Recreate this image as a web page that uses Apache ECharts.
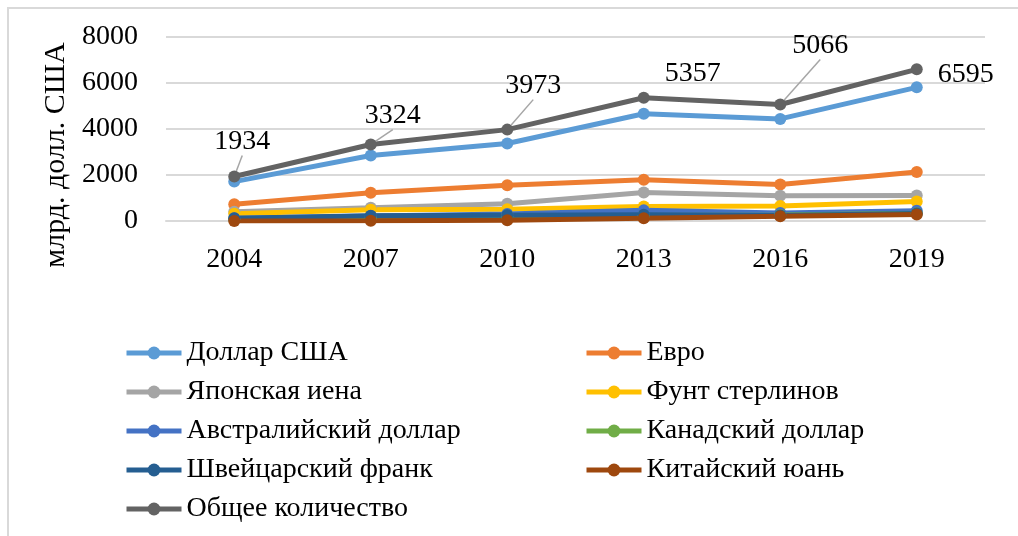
<!DOCTYPE html>
<html>
<head>
<meta charset="utf-8">
<script src="https://cdn.jsdelivr.net/npm/echarts@6/dist/echarts.min.js"></script>
<style>
  html, body { margin: 0; padding: 0; background: #fff; }
  #wrap { position: relative; width: 1018px; height: 536px; overflow: hidden; }
  #chart { position: absolute; left: 0; top: 0; width: 1018px; height: 536px; }
  #frame { position: absolute; left: 7px; top: 7px; width: 1100px; height: 600px;
           border-left: 2px solid #d9d9d9; border-top: 2px solid #d9d9d9; pointer-events: none; }
</style>
</head>
<body>
<div id="wrap"><div id="chart"></div><div id="frame"></div></div>
<script>
const years = ['2004', '2007', '2010', '2013', '2016', '2019'];
const usd   = [1713, 2845, 3371, 4662, 4438, 5811];
const eur   = [724, 1231, 1551, 1790, 1591, 2129];
const jpy   = [399, 573, 754, 1235, 1096, 1108];
const gbp   = [317, 494, 512, 633, 649, 844];
const aud   = [116, 220, 301, 462, 348, 447];
const cad   = [81, 143, 210, 244, 260, 332];
const chf   = [117, 227, 250, 276, 243, 327];
const cny   = [2, 15, 34, 120, 202, 285];
const total = [1934, 3324, 3973, 5357, 5066, 6595];
const yTicks = [0, 2000, 4000, 6000, 8000];

const names = ['Доллар США', 'Евро', 'Японская иена', 'Фунт стерлинов',
  'Австралийский доллар', 'Канадский доллар', 'Швейцарский франк', 'Китайский юань', 'Общее количество'];
const colors = ['#5B9BD5', '#ED7D31', '#A5A5A5', '#FFC000', '#4472C4', '#70AD47', '#255E91', '#9E480E', '#636363'];
const seriesData = [usd, eur, jpy, gbp, aud, cad, chf, cny, total];

// label offsets for the total series (style only)
const labelShift = [[8, -10], [22, -4], [26, -19], [49, 1], [40, -34], [10, 5]];
const labelLineOn = [true, true, true, false, true, false];

const FONT = 'Liberation Serif';
const FS = 28;

const series = seriesData.map((d, i) => {
  const s = {
    name: names[i],
    type: 'line',
    data: d,
    symbol: 'circle',
    symbolSize: 12,
    lineStyle: { width: 5, color: colors[i] },
    itemStyle: { color: colors[i] },
    emphasis: { disabled: true },
    animation: false
  };
  if (i === seriesData.length - 1) {
    s.data = d.map((v, k) => ({
      value: v,
      label: { position: k === d.length - 1 ? 'right' : 'top' },
      labelLine: { show: labelLineOn[k] }
    }));
    s.label = { show: true, fontFamily: FONT, fontSize: FS, color: '#000' };
    s.labelLine = { show: true, lineStyle: { color: '#a6a6a6', width: 1.5 } };
    s.labelLayout = function (p) {
      const sh = labelShift[p.dataIndex];
      return { dx: sh[0], dy: sh[1] };
    };
  }
  return s;
});

const legendCommon = {
  orient: 'vertical',
  itemWidth: 55,
  itemHeight: 16,
  itemGap: 11,
  lineStyle: { width: 5 },
  textStyle: { fontFamily: FONT, fontSize: FS, color: '#000', lineHeight: 27 },
  selectedMode: false
};

const chart = echarts.init(document.getElementById('chart'));
chart.setOption({
  backgroundColor: '#fff',
  color: colors,
  animation: false,
  grid: { left: 166, right: 33, top: 37, bottom: 315, containLabel: false },
  legend: [
    Object.assign({}, legendCommon, { left: 119, top: 334, data: [names[0], names[2], names[4], names[6], names[8]] }),
    Object.assign({}, legendCommon, { left: 579, top: 334, data: [names[1], names[3], names[5], names[7]] })
  ],
  xAxis: {
    type: 'category',
    data: years,
    boundaryGap: true,
    axisLine: { show: true, lineStyle: { color: '#d9d9d9', width: 2 } },
    axisTick: { show: false },
    axisLabel: { fontFamily: FONT, fontSize: FS, color: '#000', margin: 25 }
  },
  yAxis: {
    type: 'value',
    min: yTicks[0],
    max: yTicks[yTicks.length - 1],
    interval: 2000,
    name: 'млрд. долл. США',
    nameLocation: 'middle',
    nameGap: 77,
    nameTextStyle: { fontFamily: FONT, fontSize: 30, color: '#000', padding: [0, 52, 0, 0] },
    axisLine: { show: false },
    axisTick: { show: false },
    splitLine: { lineStyle: { color: '#d9d9d9', width: 2 } },
    axisLabel: { fontFamily: FONT, fontSize: FS, color: '#000', margin: 28, formatter: v => String(v) }
  },
  series: series
});
</script>
</body>
</html>
